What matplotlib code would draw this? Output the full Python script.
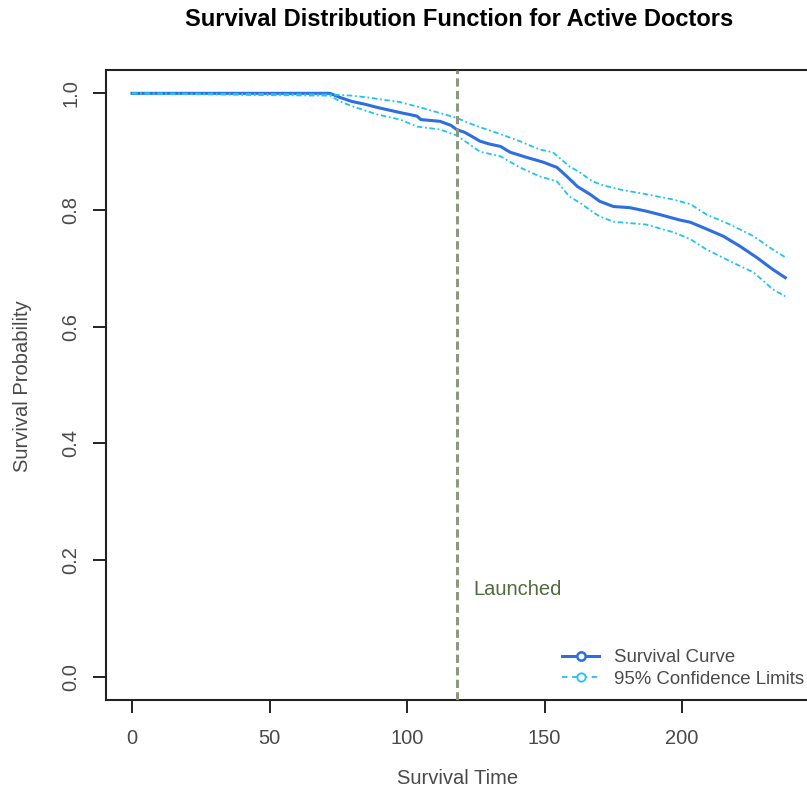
import matplotlib
matplotlib.use("Agg")
import matplotlib.pyplot as plt
from matplotlib.lines import Line2D

plt.rcParams['font.family'] = ['Liberation Sans', 'DejaVu Sans']

# survival estimate (time, probability)
surv_time = [0, 72, 75.6, 80, 85, 89, 97.5, 103.6, 105, 112, 116, 118, 121, 124,
             126.5, 130, 134, 137.5, 143.6, 149.5, 154.5, 158, 162, 166.5, 170,
             175, 181, 187, 192, 199, 203, 207.6, 215, 221, 227, 233, 237.5]
surv_prob = [1.0, 1.0, 0.993, 0.986, 0.981, 0.976, 0.967, 0.961, 0.955, 0.952,
             0.945, 0.938, 0.933, 0.925, 0.918, 0.913, 0.909, 0.899, 0.890, 0.882,
             0.873, 0.858, 0.840, 0.827, 0.815, 0.806, 0.804, 0.798, 0.792, 0.783,
             0.779, 0.770, 0.755, 0.738, 0.719, 0.698, 0.684]

# 95% confidence limits
upper_time = [0, 46, 72, 80, 85.5, 97.5, 107, 118, 122, 126.5, 134, 141, 148, 153,
              159, 163, 166.5, 170, 177.5, 187, 196.7, 203, 209, 217.5, 226, 233, 237.5]
upper_prob = [1.0, 0.999, 0.998, 0.996, 0.993, 0.985, 0.973, 0.958, 0.950, 0.942,
              0.930, 0.918, 0.904, 0.899, 0.875, 0.864, 0.852, 0.844, 0.835, 0.827,
              0.818, 0.810, 0.792, 0.775, 0.755, 0.732, 0.719]
lower_time = [0, 46, 72, 75.6, 80, 89, 97.5, 103.6, 112, 118, 122, 126.5, 134, 141,
              148, 154.5, 159, 163, 166.5, 170, 175, 187, 196.7, 203, 209, 217.5,
              226, 233, 237.5]
lower_prob = [1.0, 0.997, 0.996, 0.986, 0.978, 0.964, 0.955, 0.943, 0.938, 0.928,
              0.915, 0.900, 0.892, 0.873, 0.858, 0.849, 0.823, 0.812, 0.800, 0.789,
              0.780, 0.775, 0.762, 0.750, 0.732, 0.712, 0.693, 0.664, 0.652]

launch_time = 118
x_ticks = [0, 50, 100, 150, 200]
y_ticks = [0.0, 0.2, 0.4, 0.6, 0.8, 1.0]

blue = '#2d6ee0'
sky = '#1ec4f2'
text_grey = '#4a4a4a'
ci_style = (0, (3, 1.5, 1, 1.5))

W, H = 807, 796
fig = plt.figure(figsize=(W / 100, H / 100), dpi=100)
ax = fig.add_axes([106 / W, 96 / H, 704 / W, 630 / H])

ax.plot(surv_time, surv_prob, color=blue, lw=2.2)
ax.plot(upper_time, upper_prob, color=sky, lw=1.3, linestyle=ci_style)
ax.plot(lower_time, lower_prob, color=sky, lw=1.3, linestyle=ci_style)
ax.axvline(launch_time, color='#8e9780', lw=2.2, linestyle=(0, (2.7, 1.4)), zorder=5)
ax.text(124, 0.149, 'Launched', color='#4f6b3c', fontsize=14.5, va='center', ha='left')

ax.set_xlim(-9.45, 246.5)
ax.set_ylim(-0.04, 1.04)
ax.set_xticks(x_ticks)
ax.set_xticklabels([str(t) for t in x_ticks])
ax.set_yticks(y_ticks)
ax.set_yticklabels([f'{t:.1f}' for t in y_ticks])
ax.tick_params(axis='both', direction='out', length=9.5, width=1.4, color='#222222',
               labelsize=14.5, labelcolor=text_grey)
ax.tick_params(axis='x', pad=11.5)
ax.tick_params(axis='y', pad=9, labelrotation=90)
for lab in ax.get_yticklabels():
    lab.set_va('center')
for sp in ax.spines.values():
    sp.set_linewidth(1.5)
    sp.set_color('#222222')

fig.text(459.5 / W, 1 - 20 / H, 'Survival Distribution Function for Active Doctors',
         ha='center', va='center', fontsize=17, fontweight='bold', color='black')
fig.text(458 / W, 1 - 779 / H, 'Survival Time', ha='center', va='center',
         fontsize=14.5, color=text_grey)
fig.text(23 / W, 1 - 386 / H, 'Survival Probability', ha='center', va='center',
         rotation=90, fontsize=14.5, color=text_grey)

handles = [
    Line2D([], [], color=blue, lw=2.2, marker='o', markersize=6,
           markerfacecolor='white', markeredgecolor=blue, markeredgewidth=1.8),
    Line2D([], [], color=sky, lw=1.3, linestyle=(0, (3, 2.5)), marker='o', markersize=6,
           markerfacecolor='white', markeredgecolor=sky, markeredgewidth=1.3),
]
ax.legend(handles, ['Survival Curve', '95% Confidence Limits'], loc='lower left',
          bbox_to_anchor=(562 / W, 1 - 688 / H), bbox_transform=fig.transFigure,
          frameon=False, fontsize=13.4, handlelength=2.0, handletextpad=0.8,
          labelspacing=0.25, borderpad=0, borderaxespad=0, labelcolor=text_grey)

fig.savefig('out.png', dpi=100)
